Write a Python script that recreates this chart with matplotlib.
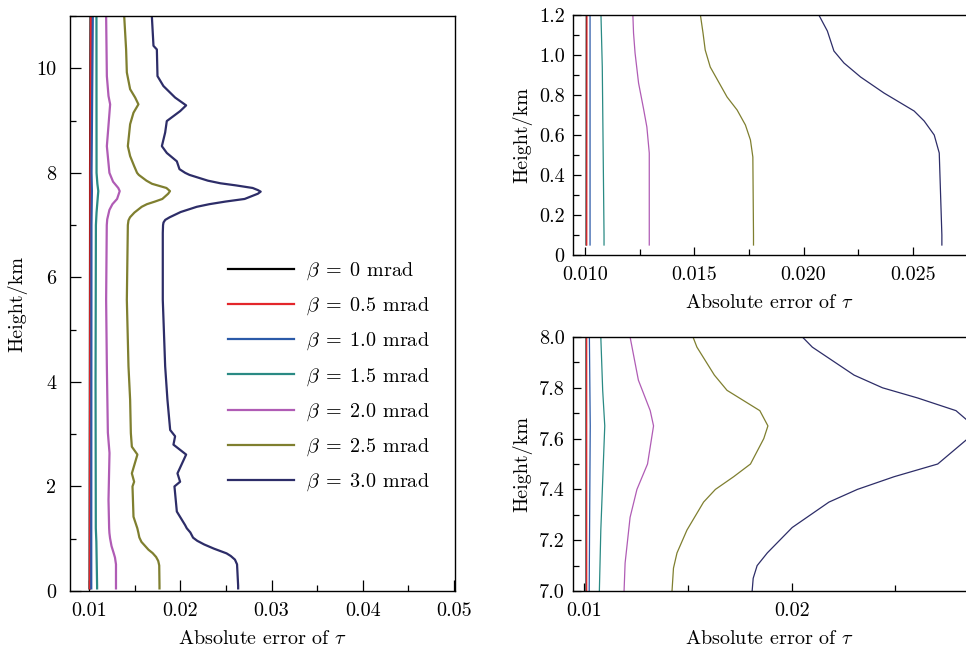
import numpy as np
import matplotlib
matplotlib.use("Agg")
import matplotlib.pyplot as plt
from matplotlib.ticker import MultipleLocator, FixedLocator, FixedFormatter

plt.rcParams['font.family'] = 'serif'
plt.rcParams['font.serif'] = ['cmr10', 'DejaVu Serif']
plt.rcParams['mathtext.fontset'] = 'cm'
plt.rcParams['axes.formatter.use_mathtext'] = True
plt.rcParams['font.size'] = 14.5

# profiles: height (km) and absolute error of tau
betas = ['0', '0.5', '1.0', '1.5', '2.0', '2.5', '3.0']
colors = ['#000000', '#e3262b', '#2b5aa8', '#2a8a84', '#b05cb5', '#7f7f2f', '#2d2d68']

h_b00 = [0.05, 7.0, 8.0, 11.0]
tau_b00 = [0.01005, 0.01010, 0.01010, 0.01015]

h_b05 = [0.05, 7.0, 8.0, 11.0]
tau_b05 = [0.01008, 0.01013, 0.01013, 0.01020]

h_b10 = [0.05, 1.2, 7.0, 7.65, 8.0, 11.0]
tau_b10 = [0.01023, 0.01023, 0.01025, 0.01030, 0.01026, 0.01040]

h_b15 = [0.05, 0.1, 0.94, 1.2, 4.0, 7.0, 7.24, 7.5, 7.65, 7.79, 8.0, 11.0]
tau_b15 = [0.01087, 0.01087, 0.01079, 0.01073, 0.01070, 0.01074, 0.01081,
           0.01093, 0.01100, 0.01090, 0.01081, 0.01080]

h_b20 = [0.05, 0.1, 0.51, 0.64, 0.73, 0.86, 1.01, 1.11, 1.2, 1.74, 2.64, 3.03,
         4.3, 5.57, 7.0, 7.11, 7.29, 7.4, 7.5, 7.65, 7.71, 7.83, 8.0, 8.51,
         9.31, 9.47, 9.85, 11.0]
tau_b20 = [0.01294, 0.01294, 0.01294, 0.01283, 0.01268, 0.01245, 0.01229,
           0.01222, 0.01219, 0.01212, 0.01223, 0.01205, 0.01194, 0.01186,
           0.01193, 0.01198, 0.01222, 0.01255, 0.01306, 0.01335, 0.01319,
           0.01262, 0.01222, 0.01194, 0.01230, 0.01212, 0.01194, 0.01186]

h_b25 = [0.05, 0.1, 0.49, 0.575, 0.65, 0.725, 0.79, 0.94, 1.025, 1.11, 1.2,
         1.42, 2.0, 2.09, 2.25, 2.61, 2.76, 3.02, 3.66, 4.3, 5.57, 7.0, 7.09,
         7.15, 7.24, 7.35, 7.4, 7.45, 7.5, 7.6, 7.65, 7.71, 7.79, 7.85, 7.96,
         8.0, 8.13, 8.32, 8.51, 8.93, 9.15, 9.31, 9.44, 9.6, 9.92, 10.36, 11.0]
tau_b25 = [0.01771, 0.01771, 0.01768, 0.01757, 0.01734, 0.01696, 0.01650,
           0.01573, 0.01550, 0.01540, 0.01528, 0.01486, 0.01475, 0.01493,
           0.01468, 0.01529, 0.01468, 0.01457, 0.01449, 0.01431, 0.01413,
           0.01424, 0.01431, 0.01448, 0.01496, 0.01576, 0.01633, 0.01721,
           0.01802, 0.01866, 0.01886, 0.01847, 0.01689, 0.01628, 0.01544,
           0.01525, 0.01493, 0.01449, 0.01424, 0.01449, 0.01486, 0.01540,
           0.01504, 0.01449, 0.01413, 0.01405, 0.01384]

h_b30 = [0.05, 0.1, 0.51, 0.6, 0.67, 0.72, 0.81, 0.89, 0.96, 1.02, 1.12, 1.2,
         1.26, 1.52, 2.0, 2.09, 2.25, 2.61, 2.8, 2.96, 3.08, 3.66, 4.3, 5.57,
         6.85, 7.0, 7.05, 7.1, 7.15, 7.25, 7.35, 7.4, 7.45, 7.5, 7.6, 7.64,
         7.67, 7.71, 7.76, 7.8, 7.85, 7.96, 8.0, 8.07, 8.22, 8.38, 8.51, 8.77,
         8.99, 9.18, 9.29, 9.44, 9.66, 9.85, 10.36, 10.43, 11.0]
tau_b30 = [0.02633, 0.02633, 0.02621, 0.02598, 0.02552, 0.02506, 0.02368,
           0.02261, 0.02185, 0.02139, 0.02109, 0.02070, 0.02052, 0.01961,
           0.01935, 0.01997, 0.01968, 0.02063, 0.01924, 0.01942, 0.01888,
           0.01858, 0.01833, 0.01807, 0.01807, 0.01810, 0.01815, 0.01834,
           0.01883, 0.02003, 0.02180, 0.02317, 0.02494, 0.02704, 0.02849,
           0.02880, 0.02849, 0.02792, 0.02607, 0.02438, 0.02301, 0.02100,
           0.02052, 0.01990, 0.01961, 0.01851, 0.01797, 0.01833, 0.01851,
           0.01997, 0.02063, 0.01942, 0.01814, 0.01749, 0.01742, 0.01705,
           0.01687]

heights = [h_b00, h_b05, h_b10, h_b15, h_b20, h_b25, h_b30]
taus = [tau_b00, tau_b05, tau_b10, tau_b15, tau_b20, tau_b25, tau_b30]

fig = plt.figure(figsize=(9.66, 6.48), dpi=100)
W, H = 966.0, 648.0

def rect(x0, y0, x1, y1):
    # pixel box (left, top, right, bottom) -> figure fraction
    return [x0 / W, 1 - y1 / H, (x1 - x0) / W, (y1 - y0) / H]

ax_main = fig.add_axes(rect(70, 16, 455, 591))
ax_low = fig.add_axes(rect(573, 15, 967, 255))
ax_mid = fig.add_axes(rect(573, 337, 967, 591))

for h, t, b, c in zip(heights, taus, betas, colors):
    ax_main.plot(t, h, color=c, lw=1.6, label=r'$\beta\;=\;%s$ mrad' % b)
    ax_low.plot(t, h, color=c, lw=0.9)
    ax_mid.plot(t, h, color=c, lw=0.9)

# left panel
ax_main.set_xlim(0.0079, 0.0501)
ax_main.set_ylim(0, 11)
ax_main.xaxis.set_major_locator(FixedLocator([0.01, 0.02, 0.03, 0.04, 0.05]))
ax_main.xaxis.set_major_formatter(FixedFormatter(['0.01', '0.02', '0.03', '0.04', '0.05']))
ax_main.xaxis.set_minor_locator(MultipleLocator(0.005))
ax_main.yaxis.set_major_locator(FixedLocator([0, 2, 4, 6, 8, 10]))
ax_main.yaxis.set_major_formatter(FixedFormatter(['0', '2', '4', '6', '8', '10']))
ax_main.yaxis.set_minor_locator(MultipleLocator(1))
ax_main.tick_params(which='major', direction='in', length=8, width=0.9)
ax_main.tick_params(which='minor', direction='in', length=4.5, width=0.9)
ax_main.tick_params(axis='x', which='major', pad=8)
ax_main.tick_params(axis='y', which='major', pad=10)
ax_main.set_xlabel(r'Absolute error of $\tau$', labelpad=7)
ax_main.set_ylabel('Height/km', labelpad=6)
ax_main.legend(loc='upper left', bbox_to_anchor=(0.41, 0.575), frameon=False,
               handlelength=3.3, handletextpad=0.6, labelspacing=0.68,
               borderpad=0, borderaxespad=0, fontsize=14.5)

# upper right: 0-1.2 km
ax_low.set_xlim(0.00945, 0.02748)
ax_low.set_ylim(0, 1.2)
ax_low.xaxis.set_major_locator(FixedLocator([0.010, 0.015, 0.020, 0.025]))
ax_low.xaxis.set_major_formatter(FixedFormatter(['0.010', '0.015', '0.020', '0.025']))
ax_low.xaxis.set_minor_locator(MultipleLocator(0.0025))
ax_low.yaxis.set_major_locator(FixedLocator([0, 0.2, 0.4, 0.6, 0.8, 1.0, 1.2]))
ax_low.yaxis.set_major_formatter(FixedFormatter(['0', '0.2', '0.4', '0.6', '0.8', '1.0', '1.2']))
ax_low.yaxis.set_minor_locator(MultipleLocator(0.1))
ax_low.set_ylabel('Height/km', labelpad=5)

# lower right: 7-8 km
ax_mid.set_xlim(0.00947, 0.02845)
ax_mid.set_ylim(7.0, 8.0)
ax_mid.xaxis.set_major_locator(FixedLocator([0.01, 0.02]))
ax_mid.xaxis.set_major_formatter(FixedFormatter(['0.01', '0.02']))
ax_mid.xaxis.set_minor_locator(MultipleLocator(0.005))
ax_mid.yaxis.set_major_locator(FixedLocator([7.0, 7.2, 7.4, 7.6, 7.8, 8.0]))
ax_mid.yaxis.set_major_formatter(FixedFormatter(['7.0', '7.2', '7.4', '7.6', '7.8', '8.0']))
ax_mid.yaxis.set_minor_locator(MultipleLocator(0.1))
ax_mid.set_ylabel('Height/km', labelpad=5)

for ax in (ax_low, ax_mid):
    ax.spines['right'].set_visible(False)
    ax.tick_params(which='major', direction='in', length=6, width=0.9)
    ax.tick_params(which='minor', direction='in', length=4, width=0.9)
    ax.tick_params(axis='x', which='major', pad=8)
    ax.tick_params(axis='y', which='major', pad=6)
    ax.set_xlabel(r'Absolute error of $\tau$', labelpad=7)

for ax in (ax_main, ax_low, ax_mid):
    for s in ax.spines.values():
        s.set_linewidth(1.0)

fig.savefig('out.png', dpi=100)
